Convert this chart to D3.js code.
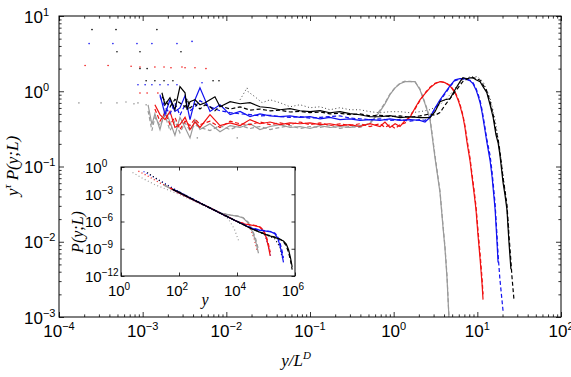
<!DOCTYPE html>
<html>
<head>
<meta charset="utf-8">
<title></title>
<script src="https://cdnjs.cloudflare.com/ajax/libs/d3/7.8.5/d3.min.js"></script>
<style>
  body { margin: 0; background: #fff; }
</style>
</head>
<body>
<div id="chart"></div>
<script>
// ---- main plot data: y^tau P(y;L) against y/L^D ----

var grayX = [1.16e-3,1.29e-3,1.40e-3,1.61e-3,1.85e-3,2.12e-3,2.43e-3,2.79e-3,3.21e-3,3.68e-3,4.22e-3,4.84e-3,6.38e-3,8.40e-3,0.0111,0.0146,0.0192,0.0252,0.0333,0.0438,0.0577,0.0759,0.100,0.132,0.173,0.228,0.300,0.395,0.521,0.687,0.787,0.903,1.04,1.19,1.37,1.57,1.80,2.06,2.37,2.72,3.12,3.58,3.88,4.10,4.34,4.58];
var graySolid = [0.66,0.36,0.50,0.31,0.57,0.39,0.26,0.45,0.33,0.24,0.42,0.31,0.37,0.29,0.35,0.33,0.37,0.31,0.34,0.36,0.33,0.34,0.32,0.35,0.33,0.34,0.33,0.35,0.37,0.54,0.68,0.90,1.11,1.26,1.34,1.34,1.34,1.05,0.68,0.42,0.13,0.045,0.016,0.0083,0.0033,0.00098];
var grayDashed = [0.55,0.30,0.45,0.35,0.48,0.30,0.40,0.28,0.38,0.30,0.36,0.33,0.30,0.35,0.31,0.35,0.32,0.34,0.31,0.33,0.35,0.32,0.34,0.33,0.35,0.32,0.34,0.33,0.38,0.56,0.70,0.92,1.12,1.28,1.36,1.35,1.33,1.08,0.70,0.44,0.14,0.047,0.017,0.0088,0.0036,0.00098];

var redX = [1.40e-3,1.61e-3,1.85e-3,2.12e-3,2.43e-3,2.79e-3,3.21e-3,3.68e-3,4.22e-3,4.84e-3,6.38e-3,8.40e-3,0.0111,0.0146,0.0192,0.0252,0.0333,0.0438,0.0577,0.0759,0.100,0.132,0.173,0.228,0.300,0.395,0.521,0.687,0.787,0.903,1.04,1.19,1.37,1.57,1.80,2.06,2.37,2.72,3.12,3.58,4.10,4.71,5.41,5.87,6.21,6.73,7.11,7.52,8.17,8.63,9.12,9.63,10.2,10.8,11.4,11.7];
var redSolid = [0.66,0.49,0.42,0.54,0.33,0.36,0.45,0.31,0.39,0.33,0.49,0.35,0.38,0.35,0.42,0.37,0.39,0.36,0.38,0.37,0.38,0.36,0.37,0.35,0.36,0.34,0.37,0.34,0.39,0.33,0.37,0.34,0.41,0.45,0.60,0.77,0.93,1.11,1.26,1.34,1.30,1.18,0.96,0.77,0.64,0.46,0.33,0.21,0.12,0.073,0.045,0.027,0.012,0.0058,0.0027,0.0017];
var redDashed = [0.58,0.40,0.52,0.36,0.45,0.31,0.40,0.35,0.43,0.36,0.40,0.33,0.40,0.37,0.36,0.39,0.36,0.38,0.36,0.39,0.36,0.38,0.35,0.37,0.35,0.37,0.34,0.37,0.33,0.36,0.32,0.36,0.38,0.47,0.58,0.75,0.95,1.13,1.28,1.35,1.31,1.20,0.98,0.80,0.67,0.48,0.35,0.23,0.13,0.080,0.050,0.030,0.014,0.0068,0.0032,0.0020];

var blueX = [1.61e-3,1.85e-3,2.12e-3,2.43e-3,2.79e-3,3.21e-3,3.68e-3,4.22e-3,4.84e-3,6.38e-3,8.40e-3,0.0111,0.0146,0.0192,0.0252,0.0333,0.0438,0.0577,0.0759,0.100,0.132,0.173,0.228,0.300,0.395,0.521,0.687,0.903,1.19,1.57,2.06,2.37,2.72,3.12,3.58,4.10,4.71,5.41,6.21,7.11,8.17,8.87,9.63,10.2,10.8,11.4,12.3,13.0,14.2,15.0,16.3,17.2,17.7,18.6,20.3];
var blueSolid = [0.90,0.49,0.77,0.54,0.60,0.87,0.42,0.77,1.11,0.54,0.66,0.49,0.54,0.46,0.50,0.47,0.46,0.47,0.45,0.46,0.43,0.45,0.42,0.43,0.41,0.42,0.41,0.43,0.41,0.42,0.41,0.39,0.45,0.60,0.77,0.95,1.18,1.42,1.47,1.47,1.38,1.26,1.05,0.87,0.70,0.52,0.31,0.21,0.12,0.073,0.027,0.0097,0.0053,null,null];
var blueDashed = [0.85,0.62,0.50,0.70,0.48,0.66,0.55,0.62,0.75,0.62,0.55,0.52,0.50,0.49,0.47,0.48,0.46,0.45,0.46,0.44,0.45,0.46,0.47,0.44,0.43,0.42,0.43,0.41,0.42,0.40,0.42,0.41,0.46,0.58,0.74,0.92,1.15,1.38,1.45,1.46,1.40,1.30,1.10,0.92,0.75,0.56,0.34,0.23,0.14,0.085,0.032,0.012,0.0068,0.0032,0.0012];

var blackX = [1.70e-3,1.85e-3,2.12e-3,2.43e-3,2.79e-3,3.21e-3,3.39e-3,3.68e-3,4.22e-3,4.84e-3,5.56e-3,6.38e-3,7.31e-3,8.40e-3,0.0111,0.0146,0.0192,0.0252,0.0333,0.0438,0.0577,0.0759,0.100,0.132,0.173,0.228,0.300,0.395,0.521,0.687,0.903,1.19,1.57,2.06,2.72,3.12,3.58,4.10,4.71,5.41,6.21,6.73,7.52,8.17,8.87,9.63,10.8,11.7,13.0,14.2,15.4,16.7,17.7,18.6,20.3,21.4,22.6,23.9,25.2,25.9,27.4];
var blackSolid = [0.955,0.662,0.82,0.568,1.15,0.955,0.568,0.726,0.771,0.662,0.704,0.771,0.845,0.622,0.726,0.682,0.704,0.622,0.604,0.568,0.586,0.551,0.535,0.551,0.518,0.535,0.503,0.487,0.458,0.458,0.473,0.445,0.458,0.445,0.445,0.535,0.726,0.771,0.795,1.047,1.34,1.51,1.466,1.51,1.51,1.42,1.34,1.15,0.955,0.662,0.458,0.264,0.207,0.144,0.061,0.042,0.0267,0.0097,0.0043,null,null];
var blackDashed = [0.85,0.75,0.62,0.78,0.70,0.62,0.80,0.60,0.68,0.58,0.66,0.62,0.55,0.64,0.58,0.62,0.56,0.58,0.55,0.56,0.53,0.54,0.52,0.53,0.50,0.51,0.49,0.50,0.47,0.48,0.46,0.47,0.45,0.47,0.50,0.48,0.52,0.65,0.80,0.98,1.20,1.35,1.45,1.50,1.52,1.48,1.40,1.22,1.00,0.72,0.50,0.30,0.23,0.16,0.070,0.048,0.031,0.012,0.0055,0.0035,0.0017];

// dotted series, black one is continuous over the plateau
var blackDotX = [0.0146,0.0177,0.0182,0.0220,0.0267,0.0333,0.0438,0.0577,0.0759,0.100,0.132,0.173,0.228,0.300,0.395,0.521,0.687,0.903,1.19,1.57,2.06,2.72,3.58,4.71,5.71,6.73,8.17,10.0,11.7,14.2,16.3,18.6,20.3,22.0,23.9];
var blackDotY = [0.771,1.113,0.985,0.845,0.704,0.771,0.704,0.622,0.662,0.604,0.622,0.568,0.604,0.568,0.568,0.535,0.518,0.535,0.535,0.518,0.535,0.568,0.662,0.899,1.18,1.42,1.56,1.56,1.34,0.820,0.418,0.167,0.0778,0.0362,0.0145];

// sparse points at small y/L^D (single counts)
var grayPtX = [1.73e-4,3.18e-4,4.93e-4,6.32e-4,7.87e-4,8.79e-4,1.10e-3,4.50e-3,0.0135];
var grayPtY = [0.70,0.70,0.70,0.72,0.68,0.70,0.66,0.24,0.24];
var redPtX = [2.05e-4,3.86e-4,7.27e-4,9.29e-4,1.40e-3,1.80e-3,2.18e-3,2.95e-3,3.21e-3,4.22e-3,5.71e-3,9.29e-4,1.13e-3,1.52e-3];
var redPtY = [2.20,2.20,2.15,2.10,2.10,2.10,2.05,2.10,2.05,2.05,2.00,0.95,0.95,0.95];
var bluePtX = [2.29e-4,4.41e-4,8.55e-4,1.29e-3,2.57e-3,3.89e-3,8.79e-4,1.07e-3,1.29e-3,1.61e-3,2.01e-3,2.57e-3,5.12e-3];
var bluePtY = [4.30,4.30,4.30,4.30,4.30,4.60,1.22,1.22,1.22,1.22,1.22,1.22,1.30];
var blackPtX = [2.48e-4,4.80e-4,1.48e-3,4.93e-4,9.29e-4,2.87e-3,9.29e-4,1.13e-3,1.10e-3,1.40e-3,1.80e-3,2.30e-3,6.94e-3,8.17e-3];
var blackPtY = [6.6,6.6,6.6,3.35,3.35,3.35,2.0,2.0,1.38,1.38,1.38,1.38,1.38,1.38];

// ---- inset data: P(y;L) against y ----

var inGrayX = [30,100,300,1000,3000,6000,1e4,1.6e4,2.5e4,3.5e4,4.5e4,5.5e4];
var inGraySolid = [1e-2,1.4e-3,2.5e-4,4e-5,7.9e-6,5e-6,4e-6,2.5e-6,6.3e-7,6.3e-8,5e-9,3.2e-10];
var inGrayDashed = [1.1e-2,1.5e-3,2.6e-4,4.1e-5,8e-6,5.2e-6,4.2e-6,2.8e-6,8e-7,1e-7,1e-8,8e-10];
var inRedX = [50,100,300,1000,3000,1e4,2e4,4e4,6e4,8e4,1e5,1.2e5,1.4e5];
var inRedSolid = [4.5e-3,1.4e-3,2.5e-4,4e-5,6.8e-6,1e-6,5e-7,3.5e-7,2.5e-7,1e-7,2e-8,2e-9,1.6e-10];
var inRedDashed = [4.8e-3,1.5e-3,2.6e-4,4.1e-5,7e-6,1.05e-6,5.3e-7,3.7e-7,2.8e-7,1.3e-7,3e-8,4e-9,4e-10];
var inBlueX = [60,100,300,1000,3000,1e4,3e4,6e4,1e5,1.5e5,2e5,2.5e5,3e5,3.5e5,4e5];
var inBlueSolid = [3.5e-3,1.6e-3,2.7e-4,4e-5,6.8e-6,1e-6,1.9e-7,1.1e-7,8.9e-8,7.1e-8,4.5e-8,1.6e-8,2.5e-9,3.2e-10,3.2e-11];
var inBlueDashed = [3.6e-3,1.7e-3,2.8e-4,4.1e-5,7e-6,1.05e-6,2e-7,1.2e-7,9.5e-8,7.8e-8,5.5e-8,2.5e-8,5e-9,8e-10,1e-10];
var inBlackX = [60,100,300,1000,3000,1e4,3e4,1e5,2e5,3e5,4e5,5e5,6e5,7e5,8e5];
var inBlackSolid = [3.5e-3,1.6e-3,2.7e-4,4e-5,6.8e-6,1e-6,1.7e-7,3.5e-8,1.8e-8,1.1e-8,7e-9,3.2e-9,8e-10,1e-10,1e-11];
var inBlackDashed = [3.6e-3,1.7e-3,2.8e-4,4.1e-5,7e-6,1.05e-6,1.8e-7,3.7e-8,1.9e-8,1.2e-8,6e-9,2e-9,4e-10,5e-11,5e-12];

var inGrayDotX = [2.5,6,15,40,100,300,1000,3000,5000,8000,1.2e4];
var inGrayDotY = [0.25,0.05,1.1e-2,3.2e-3,1e-3,2e-4,3.2e-5,6.3e-6,2e-6,1.6e-7,5e-9];
var inRedDotX = [4,8,20,50,100,300,1000,3000,1e4,2e4,3e4,4e4,5e4];
var inRedDotY = [0.35,0.11,2e-2,5e-3,1.6e-3,2.8e-4,4e-5,7e-6,1e-6,4.5e-7,1.3e-7,1e-8,5e-10];
var inBlueDotX = [6,10,25,60,100,300,1000,3000,1e4,3e4,6e4,9e4,1.2e5,1.5e5];
var inBlueDotY = [0.32,0.13,2.5e-2,5e-3,2e-3,3.2e-4,4e-5,7e-6,1e-6,1.9e-7,1e-7,3.2e-8,2.5e-9,1e-10];
var inBlackDotX = [8,15,30,60,100,300,1000,3000,1e4,3e4,1e5,2e5,3e5,3.6e5];
var inBlackDotY = [0.25,6.3e-2,1.6e-2,4e-3,1.6e-3,2.7e-4,4e-5,6.8e-6,1e-6,1.7e-7,3.5e-8,1.3e-8,1.6e-9,1e-10];

// tick exponents
var mainXExp = [-4,-3,-2,-1,0,1,2];
var mainYExp = [-3,-2,-1,0,1];
var inXExp = [0,2,4,6];
var inYExp = [0,-3,-6,-9,-12];

var GRAY = "#9a9a9a", RED = "#f01010", BLUE = "#1010f0", BLACK = "#000";
var SANS = "'Liberation Sans', Arial, Helvetica, sans-serif";
var SERIF = "'Liberation Serif', 'Times New Roman', serif";
var DASH = "4,2.5", DOT = "1,2.5";

var svg = d3.select("#chart").append("svg")
    .attr("width", 571)
    .attr("height", 377);

var x = d3.scaleLog().domain([1e-4, 1e2]).range([59, 561]);
var y = d3.scaleLog().domain([1e-3, 1e1]).range([317, 16]);
var ix = d3.scaleLog().domain([1, 1e6]).range([121, 295]);
var iy = d3.scaleLog().domain([1e-12, 1]).range([276, 167]);

function addClip(id, sx, sy) {
    svg.append("clipPath").attr("id", id).append("rect")
        .attr("x", sx.range()[0]).attr("y", sy.range()[1])
        .attr("width", sx.range()[1] - sx.range()[0])
        .attr("height", sy.range()[0] - sy.range()[1]);
}
addClip("mainClip", x, y);
addClip("insetClip", ix, iy);

function drawLine(g, sx, sy, xs, ys, color, dash, w) {
    var pts = xs.map(function (v, i) { return [v, ys[i]]; });
    g.append("path")
        .datum(pts)
        .attr("fill", "none")
        .attr("stroke", color)
        .attr("stroke-width", w || 1.2)
        .attr("stroke-dasharray", dash)
        .attr("d", d3.line()
            .defined(function (d) { return d[1] != null; })
            .x(function (d) { return sx(d[0]); })
            .y(function (d) { return sy(d[1]); }));
}

function drawPoints(g, sx, sy, xs, ys, color) {
    g.selectAll(null)
        .data(xs.map(function (v, i) { return [v, ys[i]]; }))
        .enter()
        .append("circle")
        .attr("cx", function (d) { return sx(d[0]); })
        .attr("cy", function (d) { return sy(d[1]); })
        .attr("r", 0.8)
        .attr("fill", color);
}

// main curves
var plot = svg.append("g").attr("clip-path", "url(#mainClip)");
drawPoints(plot, x, y, grayPtX, grayPtY, GRAY);
drawPoints(plot, x, y, redPtX, redPtY, RED);
drawPoints(plot, x, y, bluePtX, bluePtY, BLUE);
drawPoints(plot, x, y, blackPtX, blackPtY, BLACK);
drawLine(plot, x, y, blackDotX, blackDotY, "#444", DOT, 1);
drawLine(plot, x, y, grayX, grayDashed, GRAY, DASH);
drawLine(plot, x, y, grayX, graySolid, GRAY, null);
drawLine(plot, x, y, redX, redDashed, RED, DASH);
drawLine(plot, x, y, redX, redSolid, RED, null);
drawLine(plot, x, y, blueX, blueDashed, BLUE, DASH);
drawLine(plot, x, y, blueX, blueSolid, BLUE, null);
drawLine(plot, x, y, blackX, blackDashed, BLACK, DASH);
drawLine(plot, x, y, blackX, blackSolid, BLACK, null);

// ticks: inward on all four sides, minor ones at 2..9 per decade
function minors(lo, hi) {
    var out = [];
    for (var e = lo; e < hi; e++) {
        for (var k = 2; k < 10; k++) out.push(k * Math.pow(10, e));
    }
    return out;
}
function pow10(e) { return Math.pow(10, e); }

function frameAxes(sx, sy, majX, majY, minX, minY, len, minLen) {
    var l = sx.range()[0], r = sx.range()[1], t = sy.range()[1], b = sy.range()[0];
    var sets = [
        [d3.axisBottom(sx), "translate(0," + b + ")", majX, minX],
        [d3.axisTop(sx), "translate(0," + t + ")", majX, minX],
        [d3.axisLeft(sy), "translate(" + l + ",0)", majY, minY],
        [d3.axisRight(sy), "translate(" + r + ",0)", majY, minY]
    ];
    sets.forEach(function (s) {
        [[s[2], len], [s[3], minLen]].forEach(function (p) {
            if (!p[0].length) return;
            var g = svg.append("g").attr("transform", s[1])
                .call(s[0].tickValues(p[0]).tickSizeInner(-p[1]).tickSizeOuter(0).tickFormat(""));
            g.select(".domain").remove();
            g.selectAll("line").attr("stroke", "#000").attr("stroke-width", 0.8);
        });
    });
    svg.append("rect")
        .attr("x", l).attr("y", t).attr("width", r - l).attr("height", b - t)
        .attr("fill", "none").attr("stroke", "#000").attr("stroke-width", 1);
}

function powLabel(px, py, e, size, supSize, lift, anchor) {
    var t = svg.append("text")
        .attr("x", px).attr("y", py)
        .attr("text-anchor", anchor)
        .style("font-family", SANS)
        .style("font-size", size + "px");
    t.append("tspan").text("10");
    t.append("tspan").attr("dy", -lift).style("font-size", supSize + "px")
        .text(String(e).replace("-", "\u2212"));
}

frameAxes(x, y, mainXExp.map(pow10), mainYExp.map(pow10), minors(-4, 2), minors(-3, 1), 5, 2.6);

mainXExp.forEach(function (e) { powLabel(x(pow10(e)), 337, e, 17, 11, 7, "middle"); });
mainYExp.forEach(function (e) { powLabel(24, y(pow10(e)) + 6.5, e, 17, 11, 7, "start"); });

// axis titles
var xt = svg.append("text").attr("x", 296).attr("y", 366).attr("text-anchor", "middle")
    .style("font-family", SERIF).style("font-size", "17px").style("font-style", "italic");
xt.append("tspan").text("y/L");
xt.append("tspan").attr("dy", -7).style("font-size", "11px").text("D");

var yt = svg.append("text").attr("transform", "translate(18,166) rotate(-90)")
    .attr("text-anchor", "middle")
    .style("font-family", SERIF).style("font-size", "17px").style("font-style", "italic");
yt.append("tspan").text("y");
yt.append("tspan").attr("dy", -7).style("font-size", "11px").text("\u03c4");
yt.append("tspan").attr("dy", 7).text(" P(y;L)");

// ---- inset ----
svg.append("rect")
    .attr("x", 121).attr("y", 167).attr("width", 174).attr("height", 109)
    .attr("fill", "#fff");
var ins = svg.append("g").attr("clip-path", "url(#insetClip)");
drawLine(ins, ix, iy, inGrayDotX, inGrayDotY, GRAY, DOT);
drawLine(ins, ix, iy, inRedDotX, inRedDotY, RED, DOT);
drawLine(ins, ix, iy, inBlueDotX, inBlueDotY, BLUE, DOT);
drawLine(ins, ix, iy, inBlackDotX, inBlackDotY, BLACK, DOT);
drawLine(ins, ix, iy, inGrayX, inGrayDashed, GRAY, DASH);
drawLine(ins, ix, iy, inGrayX, inGraySolid, GRAY, null);
drawLine(ins, ix, iy, inRedX, inRedDashed, RED, DASH);
drawLine(ins, ix, iy, inRedX, inRedSolid, RED, null);
drawLine(ins, ix, iy, inBlueX, inBlueDashed, BLUE, DASH);
drawLine(ins, ix, iy, inBlueX, inBlueSolid, BLUE, null);
drawLine(ins, ix, iy, inBlackX, inBlackDashed, BLACK, DASH);
drawLine(ins, ix, iy, inBlackX, inBlackSolid, BLACK, null);

frameAxes(ix, iy, inXExp.map(pow10), inYExp.map(pow10), [], [], 3.5, 0);

inXExp.forEach(function (e) { powLabel(ix(pow10(e)) - 2, 296, e, 15, 10, 6, "middle"); });
inYExp.forEach(function (e) { powLabel(85, iy(pow10(e)) + 5.5, e, 15, 10, 6, "start"); });

svg.append("text").attr("x", 205).attr("y", 305).attr("text-anchor", "middle")
    .style("font-family", SERIF).style("font-size", "16px").style("font-style", "italic")
    .text("y");
svg.append("text").attr("transform", "translate(83,232) rotate(-90)")
    .attr("text-anchor", "middle")
    .style("font-family", SERIF).style("font-size", "16px").style("font-style", "italic")
    .text("P(y;L)");
</script>
</body>
</html>
